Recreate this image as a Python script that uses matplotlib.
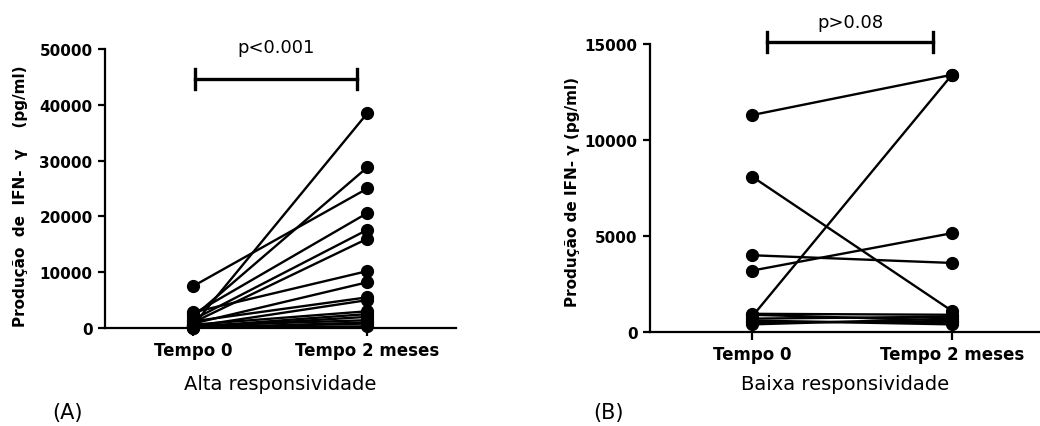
import numpy as np
import matplotlib
matplotlib.use('Agg')
import matplotlib.pyplot as plt

# dados (pg/ml)
grupos = ['Tempo 0', 'Tempo 2 meses']

alta_t0 = [7500, 500, 2000, 2500, 1500, 1000, 2800, 800, 1200, 300, 600, 200, 100, 400, 50, 100, 0]
alta_t2 = [25000, 38500, 28800, 20600, 17600, 16000, 10200, 8200, 5500, 5000, 3000, 2500, 2000, 1400, 800, 300, 1000]

baixa_t0 = [11300, 8100, 4000, 3200, 800, 900, 700, 500, 600, 400, 950]
baixa_t2 = [13400, 1100, 3600, 5150, 13400, 600, 800, 500, 400, 700, 900]

p_alta = 'p<0.001'
p_baixa = 'p>0.08'

plt.rcParams['font.family'] = 'DejaVu Sans'

fig = plt.figure(figsize=(10.4, 4.27), dpi=100)

ax1 = fig.add_axes([0.101, 0.2295, 0.337, 0.6535])
ax2 = fig.add_axes([0.625, 0.220, 0.375, 0.6745])

def painel(ax, t0, t2, ymax, passo, xlim):
    x = np.arange(len(grupos))
    for a, b in zip(t0, t2):
        ax.plot(x, [a, b], color='black', lw=1.7, marker='o', ms=8.5,
                mfc='black', mec='black', clip_on=False, zorder=3)
    ax.set_xlim(*xlim)
    ax.set_ylim(0, ymax)
    ax.set_yticks(np.arange(0, ymax + 1, passo))
    ax.set_xticks(x)
    ax.set_xticklabels(grupos, fontsize=12, fontweight='bold')
    for lab in ax.get_yticklabels():
        lab.set_fontweight('bold')
        lab.set_fontsize(11)
    ax.spines['top'].set_visible(False)
    ax.spines['right'].set_visible(False)
    ax.spines['left'].set_linewidth(1.6)
    ax.spines['bottom'].set_linewidth(1.6)
    ax.tick_params(axis='y', length=5, width=1.6, pad=4)
    ax.tick_params(axis='x', length=6, width=1.6, pad=3)

def barra(ax, x0, x1, y, cap, texto, yt):
    ax.plot([x0, x1], [y, y], color='black', lw=2.4, clip_on=False)
    ax.plot([x0, x0], [y - cap, y + cap], color='black', lw=2.4, clip_on=False)
    ax.plot([x1, x1], [y - cap, y + cap], color='black', lw=2.4, clip_on=False)
    ax.text((x0 + x1) / 2, yt, texto, ha='center', va='center', fontsize=13)

painel(ax1, alta_t0, alta_t2, 50000, 10000, (-0.506, 1.506))
barra(ax1, 0.01, 0.94, 44600, 1800, p_alta, 50300)
ax1.set_xlabel('Alta responsividade', fontsize=14, labelpad=11)

painel(ax2, baixa_t0, baixa_t2, 15000, 5000, (-0.51, 1.44))
barra(ax2, 0.075, 0.905, 15100, 520, p_baixa, 16150)
ax2.set_xlabel('Baixa responsividade', fontsize=14, labelpad=8)

fig.text(0.020, 0.54, 'Produção  de  IFN-  γ    (pg/ml)', rotation=90,
         ha='center', va='center', fontsize=11, fontweight='bold')
fig.text(0.55, 0.551, 'Produção de IFN- γ (pg/ml)', rotation=90,
         ha='center', va='center', fontsize=11, fontweight='bold')

fig.text(0.05, 0.033, '(A)', fontsize=15, ha='left', va='center')
fig.text(0.570, 0.033, '(B)', fontsize=15, ha='left', va='center')

fig.savefig('out.png', dpi=100)
